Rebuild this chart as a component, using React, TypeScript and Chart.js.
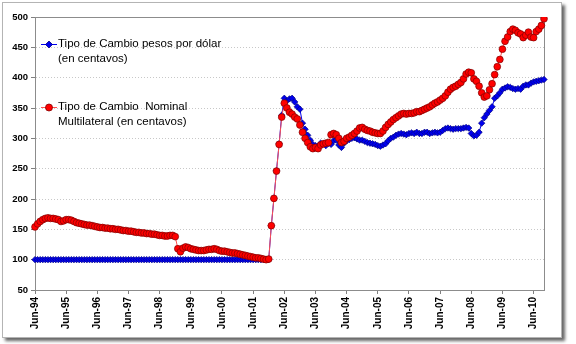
import React, { useEffect, useRef } from 'react';
import { Chart, registerables } from 'chart.js';

Chart.register(...registerables);

// Monthly categories: Jun-94 .. Oct-10
const MONTH_ABBR = ['Jan', 'Feb', 'Mar', 'Apr', 'May', 'Jun', 'Jul', 'Aug', 'Sep', 'Oct', 'Nov', 'Dec'];
const FIRST_YEAR = 1994;
const FIRST_MONTH = 5; // June
const MONTH_COUNT = 197;
const months: string[] = [];
for (let i = 0; i < MONTH_COUNT; i++) {
  const m = (FIRST_MONTH + i) % 12;
  const y = FIRST_YEAR + Math.floor((FIRST_MONTH + i) / 12);
  months.push(`${MONTH_ABBR[m]}-${String(y % 100).padStart(2, '0')}`);
}

// Tipo de Cambio pesos por dólar (en centavos)
const pesosPorDolar: number[] = [
  100, 100, 100, 100, 100, 100, 100, // 1994 Jun-Dec
  100, 100, 100, 100, 100, 100, 100, 100, 100, 100, 100, 100, // 1995
  100, 100, 100, 100, 100, 100, 100, 100, 100, 100, 100, 100, // 1996
  100, 100, 100, 100, 100, 100, 100, 100, 100, 100, 100, 100, // 1997
  100, 100, 100, 100, 100, 100, 100, 100, 100, 100, 100, 100, // 1998
  100, 100, 100, 100, 100, 100, 100, 100, 100, 100, 100, 100, // 1999
  100, 100, 100, 100, 100, 100, 100, 100, 100, 100, 100, 100, // 2000
  100, 100, 100, 100, 100, 100, 100, 100, 100, 100, 100, 100, // 2001
  156, 201, 247, 291, 338, 366, 362, 365, 366, 360, 352, 348, // 2002
  325, 315, 305, 297, 290, 288, 287, 292, 291, 288, 292, 290, // 2003
  296, 297, 289, 285, 292, 296, 298, 300, 301, 299, 297, 297, // 2004
  295, 293, 292, 291, 290, 288, 287, 289, 291, 296, 300, 302, // 2005
  305, 307, 308, 307, 306, 308, 309, 308, 310, 308, 308, 310, // 2006
  310, 308, 309, 310, 309, 310, 313, 316, 317, 316, 315, 316, // 2007
  316, 316, 317, 318, 317, 308, 304, 305, 310, 325, 334, 340, // 2008
  346, 352, 366, 370, 375, 381, 383, 385, 384, 382, 381, 382, // 2009
  381, 386, 388, 388, 391, 393, 394, 395, 396, 397, // 2010 Jan-Oct
];

// Tipo de Cambio Nominal Multilateral (en centavos)
const nominalMultilateral: number[] = [
  154, 159, 163, 166, 168, 169, 168, // 1994 Jun-Dec
  168, 167, 166, 163, 164, 166, 166, 165, 163, 161, 160, 159, // 1995
  158, 157, 157, 156, 155, 154, 153, 153, 152, 152, 151, 151, // 1996
  150, 150, 149, 148, 148, 147, 147, 146, 145, 145, 144, 144, // 1997
  143, 143, 142, 142, 141, 140, 140, 139, 139, 140, 140, 138, // 1998
  118, 113, 119, 121, 120, 118, 117, 116, 115, 115, 115, 116, // 1999
  117, 117, 118, 117, 115, 114, 114, 113, 112, 111, 111, 110, // 2000
  109, 108, 107, 106, 105, 104, 103, 103, 102, 101, 100, 101, // 2001
  156, 201, 246, 290, 335, 358, 350, 343, 340, 335, 332, 322, // 2002
  310, 300, 293, 286, 283, 285, 283, 289, 291, 292, 293, 306, // 2003
  308, 306, 300, 293, 295, 300, 302, 305, 308, 312, 317, 318, // 2004
  315, 313, 312, 310, 309, 308, 308, 312, 318, 323, 327, 331, // 2005
  334, 337, 340, 341, 340, 341, 341, 342, 344, 344, 346, 348, // 2006
  350, 352, 355, 358, 360, 363, 366, 370, 376, 381, 384, 386, // 2007
  389, 392, 398, 406, 409, 408, 398, 394, 386, 375, 368, 370, // 2008
  380, 390, 405, 418, 430, 447, 460, 467, 476, 480, 478, 474, // 2009
  472, 466, 470, 475, 467, 466, 476, 480, 486, 497, // 2010 Jan-Oct
];

const Y_MIN = 50;
const Y_MAX = 500;
const Y_STEP = 50;

const legendLines = {
  blue: ['Tipo de Cambio pesos por dólar', '(en centavos)'],
  red: ['Tipo de Cambio  Nominal', 'Multilateral (en centavos)'],
};

const BLUE = '#0000ee';
const BLUE_DARK = '#000080';
const RED = '#ff0000';
const RED_DARK = '#800000';
const FONT = '"Liberation Sans", Arial, sans-serif';

const plotBox = {
  id: 'plotBox',
  beforeDatasetsDraw(chart: any) {
    const { ctx, chartArea } = chart;
    ctx.save();
    ctx.strokeStyle = '#8c8c8c';
    ctx.lineWidth = 1;
    ctx.strokeRect(
      Math.round(chartArea.left) + 0.5,
      Math.round(chartArea.top) + 0.5,
      Math.round(chartArea.right - chartArea.left),
      Math.round(chartArea.bottom - chartArea.top)
    );
    ctx.restore();
  },
};

const customLegend = {
  id: 'customLegend',
  afterDraw(chart: any) {
    const { ctx } = chart;
    ctx.save();
    const entries = [
      { lines: legendLines.blue, y: 44, color: BLUE, dark: BLUE_DARK, style: 'diamond' },
      { lines: legendLines.red, y: 107, color: RED, dark: RED_DARK, style: 'circle' },
    ];
    for (const e of entries) {
      ctx.strokeStyle = e.style === 'circle' ? '#ff5050' : BLUE;
      ctx.lineWidth = 1;
      ctx.beginPath();
      ctx.moveTo(41, e.y + 0.5);
      ctx.lineTo(57, e.y + 0.5);
      ctx.stroke();
      ctx.fillStyle = e.color;
      ctx.strokeStyle = e.dark;
      ctx.lineWidth = 0.8;
      ctx.beginPath();
      if (e.style === 'circle') {
        ctx.arc(49, e.y + 0.5, 3.5, 0, Math.PI * 2);
      } else {
        ctx.moveTo(49, e.y + 0.5 - 3.5);
        ctx.lineTo(52.5, e.y + 0.5);
        ctx.lineTo(49, e.y + 0.5 + 3.5);
        ctx.lineTo(45.5, e.y + 0.5);
        ctx.closePath();
      }
      ctx.fill();
      ctx.stroke();
      ctx.fillStyle = '#000';
      ctx.font = `11.5px ${FONT}`;
      ctx.textBaseline = 'middle';
      ctx.textAlign = 'left';
      e.lines.forEach((t, k) => ctx.fillText(t, 58, e.y + k * 14.5));
    }
    ctx.restore();
  },
};

export default function App() {
  const ref = useRef<HTMLCanvasElement | null>(null);

  useEffect(() => {
    if (!ref.current) return;
    const chart = new Chart(ref.current, {
      type: 'line',
      data: {
        labels: months,
        datasets: [
          {
            label: legendLines.red.join(' '),
            data: nominalMultilateral,
            order: 0,
            borderColor: '#ff5050',
            borderWidth: 1,
            pointStyle: 'circle',
            pointRadius: 3.4,
            pointBackgroundColor: RED,
            pointBorderColor: RED_DARK,
            pointBorderWidth: 0.7,
            tension: 0,
          },
          {
            label: legendLines.blue.join(' '),
            data: pesosPorDolar,
            order: 1,
            borderColor: BLUE,
            borderWidth: 1,
            pointStyle: 'rectRot',
            pointRadius: 3.2,
            pointBackgroundColor: BLUE,
            pointBorderColor: BLUE_DARK,
            pointBorderWidth: 0.7,
            tension: 0,
          },
        ],
      },
      options: {
        responsive: false,
        animation: false,
        devicePixelRatio: 1,
        layout: { padding: { left: 0, top: 17, right: 32, bottom: 0 } },
        plugins: {
          legend: { display: false },
          tooltip: { enabled: false },
        },
        scales: {
          x: {
            type: 'category',
            offset: false,
            afterFit: (s: any) => { s.height = 54; },
            grid: {
              drawOnChartArea: false,
              drawTicks: true,
              tickLength: 4,
              tickColor: (c: any) => (months[c.index] && months[c.index].startsWith('Jun') ? '#808080' : 'rgba(0,0,0,0)'),
            },
            border: { color: '#808080', width: 1 },
            ticks: {
              autoSkip: false,
              minRotation: 90,
              maxRotation: 90,
              padding: 3,
              color: '#000',
              font: { family: FONT, size: 10, weight: 'bold' },
              callback: (_v: any, i: number) => (months[i].startsWith('Jun') ? months[i] : ''),
            },
          },
          y: {
            min: Y_MIN,
            max: Y_MAX,
            afterFit: (s: any) => { s.width = 35; },
            grid: {
              color: '#c8c8c8',
              lineWidth: 1,
              tickLength: 4,
              tickColor: '#808080',
            },
            border: { color: '#808080', width: 1, dash: [1, 2] },
            ticks: {
              stepSize: Y_STEP,
              padding: 3,
              color: '#000',
              font: { family: FONT, size: 9.5, weight: 'bold' },
            },
          },
        },
      },
      plugins: [plotBox, customLegend],
    });
    return () => chart.destroy();
  }, []);

  return (
    <div style={{ position: 'absolute', left: 0, top: 0, width: 576, height: 344, background: '#fff' }}>
      <div
        style={{
          position: 'absolute',
          left: 2,
          top: 2,
          width: 558,
          height: 334,
          border: '1px solid #b4b4b4',
          boxShadow: '3px 3px 3px rgba(0,0,0,0.6)',
          background: '#fff',
        }}
      />
      <canvas
        ref={ref}
        width={576}
        height={344}
        style={{ position: 'absolute', left: 0, top: 0, width: 576, height: 344 }}
      />
    </div>
  );
}
